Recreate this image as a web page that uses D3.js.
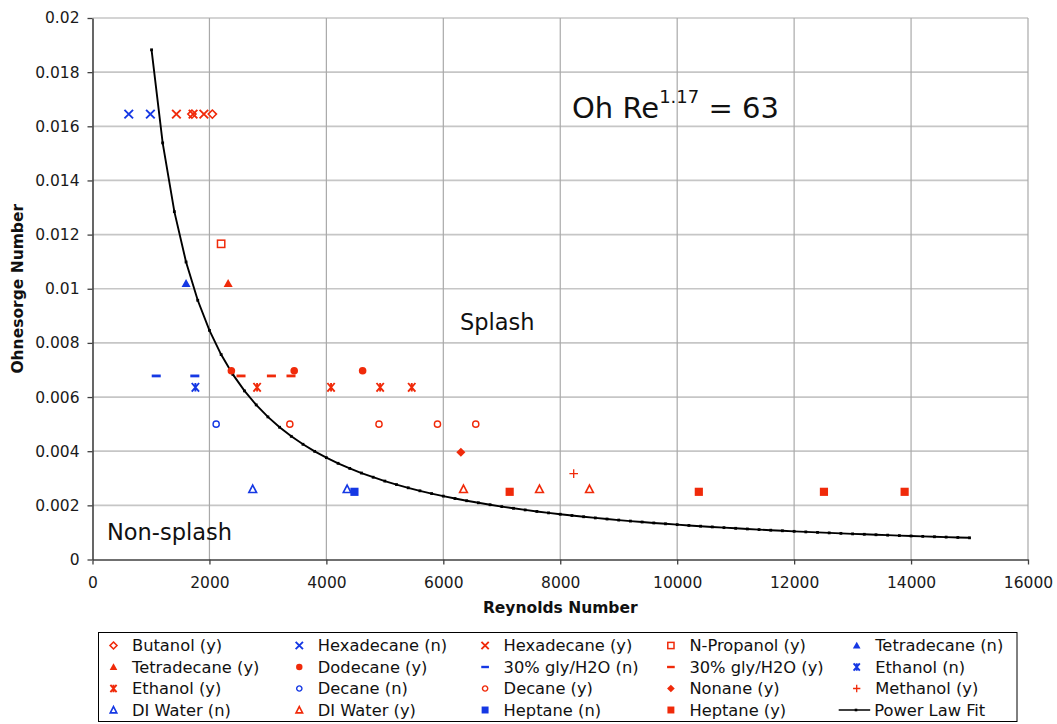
<!DOCTYPE html>
<html><head><meta charset="utf-8">
<script src="https://cdn.jsdelivr.net/npm/d3@7"></script>
<style>
html,body{margin:0;padding:0;background:#fff;}
svg{display:block;font-family:"DejaVu Sans",Verdana,sans-serif;}
</style></head>
<body>
<svg id="chart" width="1057" height="724"></svg>
<script>
// ---------- DATA (Reynolds number, Ohnesorge number) ----------
const xTickValues = [0,2000,4000,6000,8000,10000,12000,14000,16000];
const xTickLabels = ["0","2000","4000","6000","8000","10000","12000","14000","16000"];
const yTickValues = [0,0.002,0.004,0.006,0.008,0.01,0.012,0.014,0.016,0.018,0.02];
const yTickLabels = ["0","0.002","0.004","0.006","0.008","0.01","0.012","0.014","0.016","0.018","0.02"];

const butanolY      = [[1700,0.01645],[2050,0.01645]];
const hexadecaneN   = [[620,0.01645],[990,0.01645]];
const hexadecaneY   = [[1435,0.01645],[1720,0.01645],[1905,0.01645]];
const nPropanolY    = [[2200,0.01166]];
const tetradecaneN  = [[1600,0.0102]];
const tetradecaneY  = [[2320,0.0102]];
const dodecaneY     = [[2375,0.00697],[3450,0.00697],[4620,0.00697]];
const glyN          = [[1090,0.00678],[1750,0.00678]];
const glyY          = [[2540,0.00678],[3060,0.00678],[3395,0.00678]];
const ethanolN      = [[1760,0.00636]];
const ethanolY      = [[2815,0.00636],[4080,0.00636],[4920,0.00636],[5460,0.00636]];
const decaneN       = [[2115,0.005]];
const decaneY       = [[3375,0.005],[4900,0.005],[5900,0.005],[6555,0.005]];
const nonaneY       = [[6300,0.00396]];
const methanolY     = [[8230,0.00317]];
const diWaterN      = [[2740,0.0026],[4355,0.0026]];
const diWaterY      = [[6345,0.0026],[7645,0.0026],[8500,0.0026]];
const heptaneN      = [[4480,0.0025]];
const heptaneY      = [[7135,0.0025],[10370,0.0025],[12510,0.0025],[13890,0.0025]];

// Power law fit curve as plotted (Re, Oh)
const fitRe = [1010,1200,1400,1600,1800,2000,2200,2400,2600,2800,3000,3200,3400,3600,3800,4000,
  4200,4400,4600,4800,5000,5200,5400,5600,5800,6000,6200,6400,6600,6800,7000,7200,7400,7600,7800,8000,
  8200,8400,8600,8800,9000,9200,9400,9600,9800,10000,10200,10400,10600,10800,11000,11200,11400,11600,11800,12000,
  12200,12400,12600,12800,13000,13200,13400,13600,13800,14000,14200,14400,14600,14800,15000];
const fitOh = [0.018825,0.015386,0.012848,0.010989,0.009574,0.008464,0.007570,0.006838,0.006227,0.005710,0.005267,0.004884,0.004549,0.004255,0.003994,0.003762,
  0.003553,0.003365,0.003194,0.003039,0.002897,0.002767,0.002648,0.002537,0.002435,0.002341,0.002252,0.002170,0.002094,0.002022,0.001954,0.001891,0.001831,0.001775,0.001722,0.001672,
  0.001624,0.001579,0.001536,0.001495,0.001456,0.001419,0.001384,0.001350,0.001318,0.001288,0.001258,0.001230,0.001203,0.001177,0.001152,0.001128,0.001105,0.001082,0.001061,0.001040,
  0.001020,0.001001,0.000983,0.000965,0.000947,0.000931,0.000914,0.000899,0.000883,0.000869,0.000854,0.000840,0.000827,0.000814,0.000801];

const seriesNames = ["Butanol (y)","Hexadecane (n)","Hexadecane (y)","N-Propanol (y)","Tetradecane (n)",
  "Tetradecane (y)","Dodecane (y)","30% gly/H2O (n)","30% gly/H2O (y)","Ethanol (n)",
  "Ethanol (y)","Decane (n)","Decane (y)","Nonane (y)","Methanol (y)",
  "DI Water (n)","DI Water (y)","Heptane (n)","Heptane (y)","Power Law Fit"];

// ---------- STYLE ----------
const RED = "#f02a0a", BLUE = "#1538e4";
const series = [
  {name:seriesNames[0], data:butanolY, shape:"diamondOpen", color:RED},
  {name:seriesNames[1], data:hexadecaneN, shape:"cross", color:BLUE},
  {name:seriesNames[2], data:hexadecaneY, shape:"cross", color:RED},
  {name:seriesNames[3], data:nPropanolY, shape:"squareOpen", color:RED},
  {name:seriesNames[4], data:tetradecaneN, shape:"triangle", color:BLUE},
  {name:seriesNames[5], data:tetradecaneY, shape:"triangle", color:RED},
  {name:seriesNames[6], data:dodecaneY, shape:"circle", color:RED},
  {name:seriesNames[7], data:glyN, shape:"dash", color:BLUE},
  {name:seriesNames[8], data:glyY, shape:"dash", color:RED},
  {name:seriesNames[9], data:ethanolN, shape:"asterisk", color:BLUE},
  {name:seriesNames[10], data:ethanolY, shape:"asterisk", color:RED},
  {name:seriesNames[11], data:decaneN, shape:"circleOpen", color:BLUE},
  {name:seriesNames[12], data:decaneY, shape:"circleOpen", color:RED},
  {name:seriesNames[13], data:nonaneY, shape:"diamond", color:RED},
  {name:seriesNames[14], data:methanolY, shape:"plus", color:RED},
  {name:seriesNames[15], data:diWaterN, shape:"triangleOpen", color:BLUE},
  {name:seriesNames[16], data:diWaterY, shape:"triangleOpen", color:RED},
  {name:seriesNames[17], data:heptaneN, shape:"square", color:BLUE},
  {name:seriesNames[18], data:heptaneY, shape:"square", color:RED}
];

const svg = d3.select("#chart");
const L = 92.5, R = 1028, T = 18, B = 559.5;
const x = d3.scaleLinear().domain([0,16000]).range([L,R]);
const y = d3.scaleLinear().domain([0,0.02]).range([B,T]);

// gridlines
svg.append("g").selectAll("line").data(yTickValues.slice(1)).join("line")
  .attr("x1",L).attr("x2",R).attr("y1",d=>y(d)).attr("y2",d=>y(d))
  .attr("stroke","#c6c6c6").attr("stroke-width",1.7);
svg.append("g").selectAll("line").data(xTickValues.slice(1)).join("line")
  .attr("x1",d=>x(d)).attr("x2",d=>x(d)).attr("y1",T).attr("y2",B)
  .attr("stroke","#a9a9a9").attr("stroke-width",1.2);

// axes
const yAxis = svg.append("g").attr("transform",`translate(${L},0)`)
  .call(d3.axisLeft(y).tickValues(yTickValues).tickFormat((d,i)=>yTickLabels[i]).tickSize(5).tickPadding(8).tickSizeOuter(0));
const xAxis = svg.append("g").attr("transform",`translate(0,${B})`)
  .call(d3.axisBottom(x).tickValues(xTickValues).tickFormat((d,i)=>xTickLabels[i]).tickSize(5).tickPadding(12).tickSizeOuter(0));
[yAxis,xAxis].forEach(a=>{
  a.select(".domain").attr("stroke","#404040").attr("stroke-width",1.6);
  a.selectAll(".tick line").attr("stroke","#404040").attr("stroke-width",1.3);
  a.selectAll(".tick text").attr("font-family","DejaVu Sans").attr("font-size",15.5).attr("fill","#1a1a1a");
});

// axis titles
svg.append("text").attr("x",(L+R)/2).attr("y",613).attr("text-anchor","middle")
  .attr("font-size",15.5).attr("font-weight","bold").attr("fill","#111").text("Reynolds Number");
svg.append("text").attr("transform",`translate(23,${(T+B)/2}) rotate(-90)`).attr("text-anchor","middle")
  .attr("font-size",15.5).attr("font-weight","bold").attr("fill","#111").text("Ohnesorge Number");

// marker drawer
function marker(g, shape, color, s){
  s = s || 1;
  const h = 4.3*s;
  switch(shape){
    case "cross":
      g.append("path").attr("d",`M${-h},${-h}L${h},${h}M${-h},${h}L${h},${-h}`)
        .attr("stroke",color).attr("stroke-width",1.9).attr("fill","none"); break;
    case "asterisk":
      g.append("path").attr("d",`M${-h*0.85},${-h}L${h*0.85},${h}M${-h*0.85},${h}L${h*0.85},${-h}M0,${-h}L0,${h}`)
        .attr("stroke",color).attr("stroke-width",1.9).attr("fill","none"); break;
    case "plus":
      g.append("path").attr("d",`M${-h},0L${h},0M0,${-h}L0,${h}`)
        .attr("stroke",color).attr("stroke-width",1.3).attr("fill","none"); break;
    case "diamondOpen":
      g.append("path").attr("d",`M0,${-h*0.95}L${h*0.95},0L0,${h*0.95}L${-h*0.95},0Z`)
        .attr("stroke",color).attr("stroke-width",1.6).attr("fill","#fff"); break;
    case "diamond":
      g.append("path").attr("d",`M0,${-h*1.05}L${h*1.05},0L0,${h*1.05}L${-h*1.05},0Z`)
        .attr("fill",color); break;
    case "squareOpen":
      g.append("rect").attr("x",-h*0.85).attr("y",-h*0.85).attr("width",h*1.7).attr("height",h*1.7)
        .attr("stroke",color).attr("stroke-width",1.5).attr("fill","#fff"); break;
    case "square":
      g.append("rect").attr("x",-h*0.95).attr("y",-h*0.95).attr("width",h*1.9).attr("height",h*1.9)
        .attr("fill",color); break;
    case "triangle":
      g.append("path").attr("d",`M0,${-h}L${h*1.05},${h*0.85}L${-h*1.05},${h*0.85}Z`).attr("fill",color); break;
    case "triangleOpen":
      g.append("path").attr("d",`M0,${-h*0.95}L${h*0.9},${h*0.8}L${-h*0.9},${h*0.8}Z`)
        .attr("stroke",color).attr("stroke-width",1.6).attr("fill","#fff"); break;
    case "circle":
      g.append("circle").attr("r",3.8*s).attr("fill",color); break;
    case "circleOpen":
      g.append("circle").attr("r",3.1*s).attr("stroke",color).attr("stroke-width",1.4).attr("fill","#fff"); break;
    case "dash":
      g.append("rect").attr("x",-h*1.05).attr("y",-1.4*s).attr("width",h*2.1).attr("height",2.8*s).attr("fill",color); break;
  }
}

// fit line
const fitData = fitRe.map((r,i)=>[r,fitOh[i]]);
svg.append("path").datum(fitData)
  .attr("d",d3.line().x(d=>x(d[0])).y(d=>y(d[1])))
  .attr("fill","none").attr("stroke","#000").attr("stroke-width",1.9);
svg.append("g").selectAll("rect").data(fitData).join("rect")
  .attr("x",d=>x(d[0])-1.4).attr("y",d=>y(d[1])-1.4).attr("width",2.8).attr("height",2.8).attr("fill","#000");

// scatter points
series.forEach(s=>{
  const g = svg.append("g");
  s.data.forEach(d=>{
    const m = g.append("g").attr("transform",`translate(${x(d[0])},${y(d[1])})`);
    marker(m, s.shape, s.color, 1);
  });
});

// annotations
const ann = svg.append("text").attr("x",572).attr("y",118.3).attr("font-size",29).attr("fill","#111");
ann.append("tspan").text("Oh Re");
ann.append("tspan").attr("font-size",18).attr("dy",-15).text("1.17");
ann.append("tspan").attr("dy",15).text(" = 63");
svg.append("text").attr("x",460).attr("y",330).attr("font-size",22.5).attr("fill","#111").text("Splash");
svg.append("text").attr("x",107).attr("y",540).attr("font-size",22.5).attr("fill","#111").text("Non-splash");

// legend
const lg = svg.append("g");
lg.append("rect").attr("x",98.5).attr("y",632.5).attr("width",918.5).attr("height",89)
  .attr("fill","#fff").attr("stroke","#000").attr("stroke-width",1);
const colX = [113.5,299.3,485.1,670.9,856.7];
const rowY = [645.5,667,688.5,710];
seriesNames.forEach((name,i)=>{
  const c = i%5, r = Math.floor(i/5);
  const mx = colX[c], my = rowY[r];
  const g = lg.append("g");
  if(i<series.length){
    const m = g.append("g").attr("transform",`translate(${mx},${my})`);
    marker(m, series[i].shape, series[i].color, 0.85);
    g.append("text").attr("x",mx+18.5).attr("y",my).attr("dy","0.36em").attr("font-size",16.3).attr("fill","#111").text(name);
  } else {
    g.append("line").attr("x1",mx-18).attr("x2",mx+13.5).attr("y1",my).attr("y2",my).attr("stroke","#000").attr("stroke-width",1.6);
    g.append("rect").attr("x",mx-2).attr("y",my-1.3).attr("width",2.6).attr("height",2.6).attr("fill","#000");
    g.append("text").attr("x",mx+17.5).attr("y",my).attr("dy","0.36em").attr("font-size",16.3).attr("fill","#111").text(name);
  }
});
</script>
</body></html>
